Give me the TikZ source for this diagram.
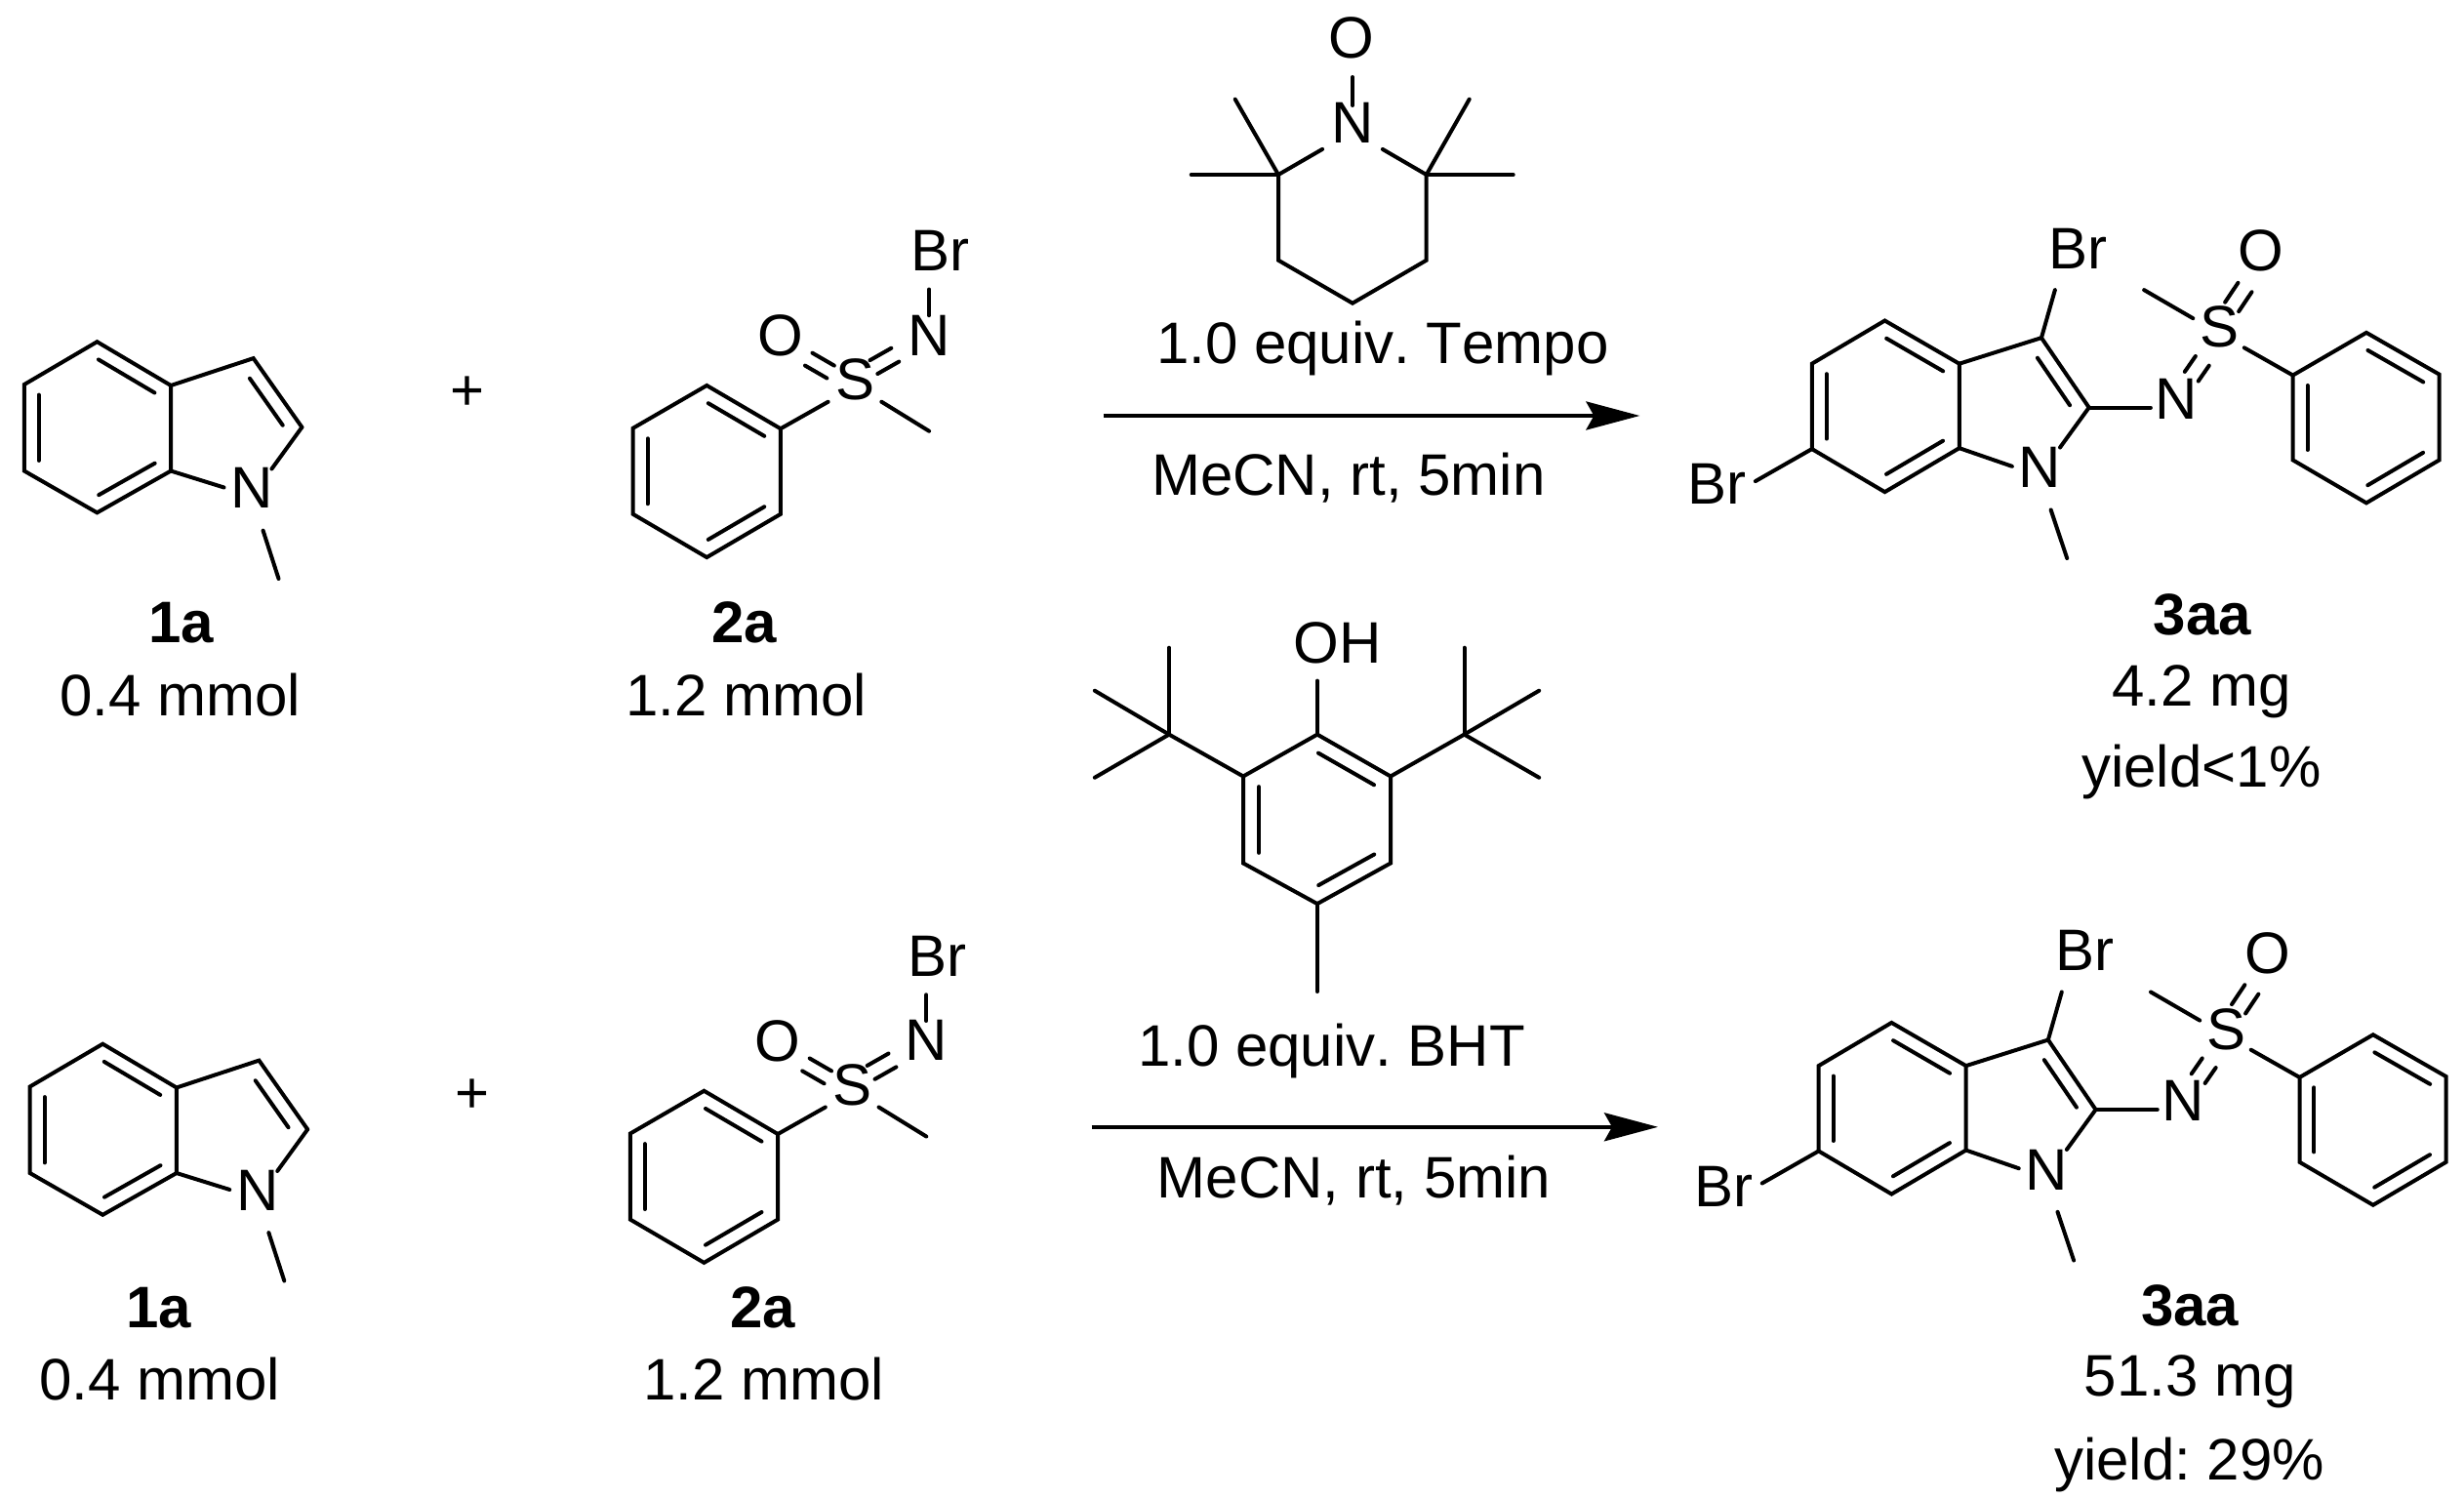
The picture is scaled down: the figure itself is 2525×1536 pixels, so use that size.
\documentclass[tikz,border=0pt]{standalone}
\usepackage{fontspec}
\setmainfont[Kerning=Off]{Liberation Sans}
\usetikzlibrary{calc,arrows.meta}
\tikzset{
  bondl/.style={line width=4pt,line cap=round,line join=miter,black},
  lab/.style={inner sep=0pt,font=\fontsize{60}{72}\selectfont,text=black},
  txt/.style={inner sep=0pt,anchor=base,font=\fontsize{60}{72}\selectfont,text=black},
  arr/.style={line width=4pt,black,-{Stealth[length=55pt,width=29pt,inset=8pt]}}
}
% inner line of a ring double bond; ring interior on the right of a->b
\newcommand{\dblin}[4][15pt]{\draw[bondl] ($(#2)!.12!(#3)!#1!-90:(#3)$) -- ($(#2)!.88!(#3)!#1!-90:(#3)$);#4}
\newcommand{\dblfive}[2]{\draw[bondl] ($(#1)!.17!(#2)!15pt!-90:(#2)$) -- ($(#1)!.85!(#2)!15pt!-90:(#2)$);}
% detached double bond around the mid line p--q
\newcommand{\dblpair}[3]{%
  \draw[bondl] ($(#1)!#3!90:(#2)$) -- ($(#2)!#3!-90:(#1)$);
  \draw[bondl] ($(#1)!#3!-90:(#2)$) -- ($(#2)!#3!90:(#1)$);}
% 1-methylindole
\newcommand{\indolemol}[3]{%
\begin{scope}[shift={(#1,#2)},xscale=.9949,yscale=.9949,name prefix=#3-]
  \coordinate (c1) at (100,351); \coordinate (c3a) at (176,396);
  \coordinate (c7a) at (176,484); \coordinate (c7) at (100,527);
  \coordinate (c6) at (25,484); \coordinate (c5) at (25,395);
  \coordinate (c3) at (261,368); \coordinate (c2) at (311,439);
  \coordinate (na) at (259.5,510); \coordinate (me) at (287,595);
  \node[lab] (nl) at (259.5,501.6) {N};
  \draw[bondl] (c1)--(c3a)--(c7a)--(c7)--(c6)--(c5)--cycle;
  \dblin{c1}{c3a}{}\dblin{c7a}{c7}{}\dblin{c6}{c5}{}
  \draw[bondl] (c3a)--(c3)--(c2);
  \dblfive{c3}{c2}
  \draw[bondl,shorten >=34.5pt] (c2)--(na);
  \draw[bondl,shorten >=30pt] (c7a)--(na);
  \draw[bondl,shorten <=37pt] (na)--(me);
\end{scope}}
% N-bromo sulfoximine
\newcommand{\sulfmol}[3]{%
\begin{scope}[shift={(#1,#2)},xscale=.9949,yscale=.9949,name prefix=#3-]
  \coordinate (r1) at (728,396); \coordinate (r2) at (804,440.5);
  \coordinate (r3) at (804,528.5); \coordinate (r4) at (728,573);
  \coordinate (r5) at (652,528.5); \coordinate (r6) at (652,440);
  \coordinate (sa) at (881.7,396.6); \coordinate (me) at (957,443);
  \coordinate (na) at (957,353); \coordinate (brend) at (957,297);
  \coordinate (so1) at (855.5,382); \coordinate (so2) at (833,369);
  \coordinate (sn1) at (900,377); \coordinate (sn2) at (922,364.5);
  \node[lab] (sl) at (881,390.3) {S};
  \node[lab] (ol) at (804,344.7) {O};
  \node[lab] (nl) at (957,344.3) {N};
  \node[lab] (brl) at (968,257) {Br};
  \draw[bondl] (r1)--(r2)--(r3)--(r4)--(r5)--(r6)--cycle;
  \dblin{r1}{r2}{}\dblin{r3}{r4}{}\dblin{r5}{r6}{}
  \draw[bondl,shorten >=32.8pt] (r2)--(sa);
  \draw[bondl,shorten <=30.7pt] (sa)--(me);
  \draw[bondl,shorten <=29pt] (na)--(brend);
  \dblpair{so1}{so2}{7.5pt}
  \dblpair{sn1}{sn2}{8pt}
\end{scope}}
% product 3aa
\newcommand{\prodmol}[3]{%
\begin{scope}[shift={(#1,#2)},xscale=.9949,yscale=.9949,name prefix=#3-]
  \coordinate (c4) at (1932.7,329.2); \coordinate (c3a) at (2009.4,373.6);
  \coordinate (c7a) at (2009.4,460.5); \coordinate (c7) at (1932.7,505.7);
  \coordinate (c6) at (1857.6,461.4); \coordinate (c5) at (1857.6,373.6);
  \coordinate (c3) at (2094,346.9); \coordinate (c2) at (2143,418.7);
  \coordinate (na) at (2092,489); \coordinate (me) at (2120.4,574);
  \coordinate (im) at (2228,418.7); \coordinate (sa) at (2278,343);
  \coordinate (mes) at (2199.7,297.6);
  \coordinate (i1) at (2353,385.5); \coordinate (i2) at (2428.7,341.6);
  \coordinate (i3) at (2503.8,384.6); \coordinate (i4) at (2503.8,472.8);
  \coordinate (i5) at (2428.7,517); \coordinate (i6) at (2353,472.8);
  \coordinate (br3end) at (2108,297.6); \coordinate (br6end) at (1799.4,494.6);
  \coordinate (so1) at (2290.2,315); \coordinate (so2) at (2303.6,295);
  \coordinate (sn1) at (2259.7,370.7); \coordinate (sn2) at (2248.6,386.7);
  \node[lab] (nl) at (2092.4,480.5) {N};
  \node[lab] (iml) at (2233.3,409.5) {N};
  \node[lab] (sl) at (2277.7,336) {S};
  \node[lab] (ol) at (2320,257.5) {O};
  \node[lab] (br3) at (2132,255) {Br};
  \node[lab] (br6) at (1760,497.5) {Br};
  \draw[bondl] (c4)--(c3a)--(c7a)--(c7)--(c6)--(c5)--cycle;
  \dblin{c4}{c3a}{}\dblin{c7a}{c7}{}\dblin{c6}{c5}{}
  \draw[bondl] (c3a)--(c3)--(c2);
  \dblfive{c3}{c2}
  \draw[bondl,shorten >=35.8pt] (c2)--(na);
  \draw[bondl,shorten >=29.7pt] (c7a)--(na);
  \draw[bondl,shorten <=36.8pt] (na)--(me);
  \draw[bondl] (c3)--(br3end);
  \draw[bondl] (c6)--(br6end);
  \draw[bondl,shorten >=21.4pt] (c2)--(im);
  \draw[bondl,shorten <=32pt] (sa)--(mes);
  \draw[bondl,shorten <=28.5pt] (sa)--(i1);
  \draw[bondl] (i1)--(i2)--(i3)--(i4)--(i5)--(i6)--cycle;
  \dblin{i2}{i3}{}\dblin{i4}{i5}{}\dblin{i6}{i1}{}
  \dblpair{so1}{so2}{8.5pt}
  \dblpair{sn1}{sn2}{8.5pt}
\end{scope}}
\begin{document}
\frenchspacing
\begin{tikzpicture}[x=1pt,y=-1pt]
\useasboundingbox (0,0) rectangle (2525,1536);
\fill[white] (0,0) rectangle (2525,1536);

\indolemol{0}{1.02}{ia}
\indolemol{5.8}{720.5}{ib}
\sulfmol{0}{1.02}{sa}
\sulfmol{-2.8}{723.8}{sb}
\prodmol{8.67}{1.02}{pa}
\prodmol{15.57}{720.42}{pb}

% plus signs
\node[lab] (plus1) at (479,403.5) {+};
\node[lab] (plus2) at (484,1123.5) {+};

% reactant and product captions, top
\node[txt] (t1a) at (186,658.6) {\bfseries 1a};
\node[txt] (t1am) at (185,733.3) {0.4 mmol};
\node[txt] (t2a) at (763,658.6) {\bfseries 2a};
\node[txt] (t2am) at (765,733.3) {1.2 mmol};
\node[txt] (t3a) at (2257,650.3) {\bfseries 3aa};
\node[txt] (t3am) at (2256,723.7) {4.2 mg};
\node[txt] (t3ay) at (2255.8,806.9) {yield<1\%};
% captions, bottom
\node[txt] (b1a) at (163,1360.7) {\bfseries 1a};
\node[txt] (b1am) at (164,1434.4) {0.4 mmol};
\node[txt] (b2a) at (782,1360.7) {\bfseries 2a};
\node[txt] (b2am) at (783,1434.4) {1.2 mmol};
\node[txt] (b3a) at (2244.2,1358) {\bfseries 3aa};
\node[txt] (b3am) at (2244.2,1430.8) {51.3 mg};
\node[txt] (b3ay) at (2243.7,1516.4) {yield: 29\%};

% top arrow and conditions
\coordinate (aa) at (1130.8,426); \coordinate (ab) at (1680.4,426);
\draw[arr] (aa)--(ab);
\node[txt] (tc1) at (1416.9,372.7) {1.0 equiv. Tempo};
\node[txt] (tc2) at (1382,507) {MeCN, rt, 5min};

% bottom arrow and conditions
\coordinate (ba) at (1118.6,1154.8); \coordinate (bb) at (1699,1154.8);
\draw[arr] (ba)--(bb);
\node[txt] (bc1) at (1364.6,1092.6) {1.0 equiv. BHT};
\node[txt] (bc2) at (1387.5,1227.3) {MeCN, rt, 5min};

% TEMPO
\coordinate (tl) at (1310,179); \coordinate (tbl) at (1310,266.7);
\coordinate (tb) at (1386,310.7); \coordinate (tbr) at (1461.7,266.7);
\coordinate (tr) at (1461.7,179); \coordinate (tn) at (1386,135);
\coordinate (to) at (1386,48);
\coordinate (tm1) at (1265.7,101.7); \coordinate (tm2) at (1220.7,179);
\coordinate (tm3) at (1505.7,101.7); \coordinate (tm4) at (1550.7,179);
\node[lab] (tnl) at (1386,126) {N};
\node[lab] (tol) at (1385.3,39.3) {O};
\draw[bondl] (tl)--(tbl)--(tb)--(tbr)--(tr);
\draw[bondl,shorten >=35.7pt] (tl)--(tn);
\draw[bondl,shorten >=35.7pt] (tr)--(tn);
\draw[bondl,shorten <=27pt,shorten >=31pt] (tn)--(to);
\draw[bondl] (tl)--(tm1);
\draw[bondl] (tl)--(tm2);
\draw[bondl] (tr)--(tm3);
\draw[bondl] (tr)--(tm4);

% BHT
\coordinate (h1) at (1349.9,752.6); \coordinate (h2) at (1425,795.5);
\coordinate (h3) at (1425,884.5); \coordinate (h4) at (1349.9,926.1);
\coordinate (h5) at (1274,884.5); \coordinate (h6) at (1274,795.5);
\coordinate (hme) at (1349.9,1016); \coordinate (hoh) at (1349.9,697.6);
\coordinate (lq) at (1198,752.6); \coordinate (l1) at (1198,663.7);
\coordinate (l2) at (1121.8,707.7); \coordinate (l3) at (1121.8,796.8);
\coordinate (rq) at (1500.5,752.6); \coordinate (r1) at (1500.5,663.7);
\coordinate (r2) at (1577.2,707.7); \coordinate (r3) at (1577.2,796.8);
\node[lab] (ohl) at (1370.6,658.8) {OH};
\draw[bondl] (h1)--(h2)--(h3)--(h4)--(h5)--(h6)--cycle;
\dblin[16pt]{h1}{h2}{}\dblin[16pt]{h3}{h4}{}\dblin[16pt]{h5}{h6}{}
\draw[bondl] (h1)--(hoh);
\draw[bondl] (h4)--(hme);
\draw[bondl] (h6)--(lq);
\draw[bondl] (h2)--(rq);
\draw[bondl] (lq)--(l1);
\draw[bondl] (lq)--(l2);
\draw[bondl] (lq)--(l3);
\draw[bondl] (rq)--(r1);
\draw[bondl] (rq)--(r2);
\draw[bondl] (rq)--(r3);
\end{tikzpicture}
\end{document}
